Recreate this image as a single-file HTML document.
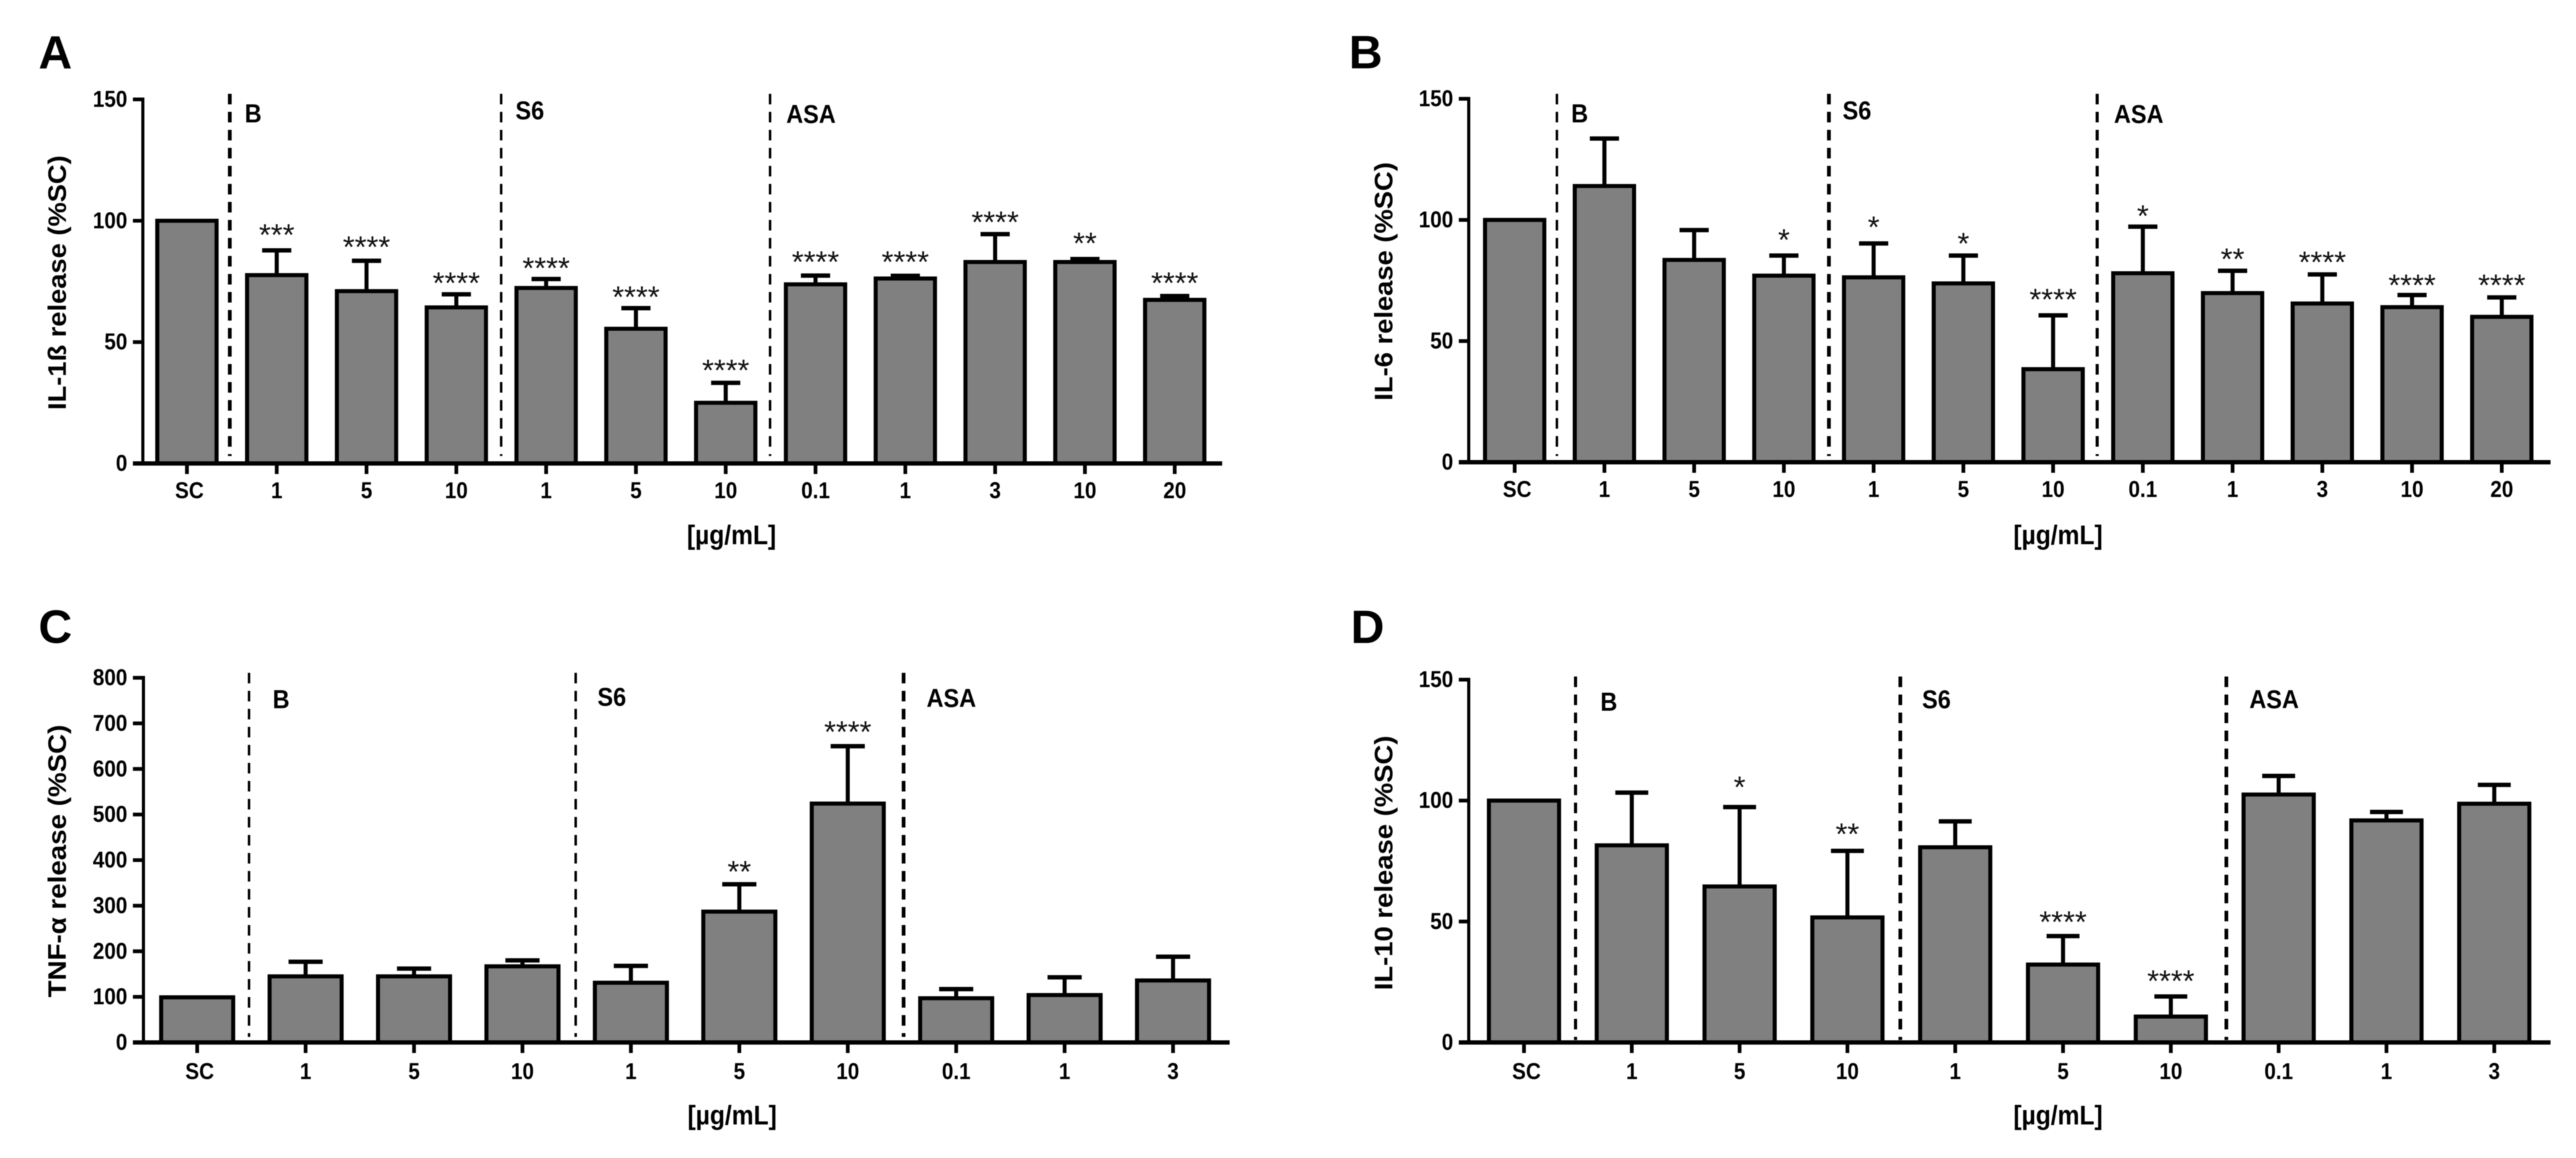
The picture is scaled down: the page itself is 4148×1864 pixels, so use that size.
<!DOCTYPE html>
<html lang="en">
<head>
<meta charset="utf-8">
<title>Cytokine release panels</title>
<style>
html,body{margin:0;padding:0;background:#fff;}
svg{display:block;font-family:"Liberation Sans",Arial,sans-serif;filter:blur(0.7px);}
.letter{font-size:75px;font-weight:bold;fill:#000;}
.ytitle{font-size:41px;font-weight:bold;fill:#000;text-anchor:middle;}
.xtitle{font-size:44px;font-weight:bold;fill:#000;text-anchor:middle;}
.group{font-size:42px;font-weight:bold;fill:#000;}
.divider{stroke:#000;stroke-dasharray:17 12;fill:none;}
</style>
</head>
<body>
<svg id="figure" xmlns="http://www.w3.org/2000/svg" width="4148" height="1864" viewBox="0 0 4148 1864">
  <rect x="0" y="0" width="4148" height="1864" fill="#ffffff"/>

  <g id="panel-a">
    <text class="letter" x="62" y="110">A</text>
    <text class="ytitle" transform="translate(106,455) rotate(-90)" textLength="410" lengthAdjust="spacingAndGlyphs">IL-1ß release (%SC)</text>
    <text class="xtitle" transform="translate(1178,876) scale(.9,1)">[µg/mL]</text>
    <line class="divider" x1="370" y1="151" x2="370" y2="734" stroke-width="6"/>
    <line class="divider" x1="807" y1="151" x2="807" y2="734" stroke-width="4"/>
    <line class="divider" x1="1240" y1="151" x2="1240" y2="734" stroke-width="4"/>
    <text class="group" transform="translate(394,197) scale(.9,1)">B</text>
    <text class="group" transform="translate(830,192) scale(.9,1)">S6</text>
    <text class="group" transform="translate(1266,198) scale(.9,1)">ASA</text>
  </g>

  <g id="panel-b">
    <text class="letter" x="2172" y="110">B</text>
    <text class="ytitle" transform="translate(2242,453) rotate(-90)" textLength="384" lengthAdjust="spacingAndGlyphs">IL-6 release (%SC)</text>
    <text class="xtitle" transform="translate(3314,876) scale(.9,1)">[µg/mL]</text>
    <line class="divider" x1="2507" y1="151" x2="2507" y2="734" stroke-width="4"/>
    <line class="divider" x1="2945" y1="151" x2="2945" y2="734" stroke-width="6"/>
    <line class="divider" x1="3377" y1="151" x2="3377" y2="734" stroke-width="5"/>
    <text class="group" transform="translate(2530,197) scale(.9,1)">B</text>
    <text class="group" transform="translate(2967,192) scale(.9,1)">S6</text>
    <text class="group" transform="translate(3404,198) scale(.9,1)">ASA</text>
  </g>

  <g id="panel-c">
    <text class="letter" x="62" y="1035">C</text>
    <text class="ytitle" transform="translate(106,1386) rotate(-90)" textLength="439" lengthAdjust="spacingAndGlyphs">TNF-α release (%SC)</text>
    <text class="xtitle" transform="translate(1179,1810) scale(.9,1)">[µg/mL]</text>
    <line class="divider" x1="401" y1="1083" x2="401" y2="1669" stroke-width="4"/>
    <line class="divider" x1="927" y1="1083" x2="927" y2="1669" stroke-width="4"/>
    <line class="divider" x1="1455" y1="1083" x2="1455" y2="1669" stroke-width="6"/>
    <text class="group" transform="translate(439,1140) scale(.9,1)">B</text>
    <text class="group" transform="translate(962,1136) scale(.9,1)">S6</text>
    <text class="group" transform="translate(1492,1138) scale(.9,1)">ASA</text>
  </g>

  <g id="panel-d">
    <text class="letter" x="2175" y="1035">D</text>
    <text class="ytitle" transform="translate(2242,1389) rotate(-90)" textLength="410" lengthAdjust="spacingAndGlyphs">IL-10 release (%SC)</text>
    <text class="xtitle" transform="translate(3314,1810) scale(.9,1)">[µg/mL]</text>
    <line class="divider" x1="2537" y1="1089" x2="2537" y2="1674" stroke-width="5"/>
    <line class="divider" x1="3060" y1="1089" x2="3060" y2="1674" stroke-width="6"/>
    <line class="divider" x1="3585" y1="1089" x2="3585" y2="1674" stroke-width="6"/>
    <text class="group" transform="translate(2577,1144) scale(.9,1)">B</text>
    <text class="group" transform="translate(3095,1140) scale(.9,1)">S6</text>
    <text class="group" transform="translate(3622,1140) scale(.9,1)">ASA</text>
  </g>
</svg>

<script>
// ---- Chart data ----
const categoriesA = ["SC","1","5","10","1","5","10","0.1","1","3","10","20"];
const valuesA     = [100,77.6,71,64.3,72.3,55.5,25,73.8,76.2,83,83,67.4];
const errorsA     = [0,10.2,12.5,5.4,3.7,8.5,8.2,3.6,1.1,11.5,1.2,1.6];
const starsA      = ["","***","****","****","****","****","****","****","****","****","**","****"];
const starLevelsA = [0,96,91,76.2,82.3,70.4,40.2,84.9,84.9,101.2,92.5,76.2];
const ticksA      = [0,50,100,150];

const categoriesB = ["SC","1","5","10","1","5","10","0.1","1","3","10","20"];
const valuesB     = [100,114,83.5,77,76.3,73.8,38.4,78,69.8,65.5,64,60];
const errorsB     = [0,19.6,12.3,8.3,14,11.5,22.2,19.2,9.2,12,5,8];
const starsB      = ["","","","*","*","*","****","*","**","****","****","****"];
const starLevelsB = [0,0,0,93.6,98.9,92,69,103.5,85.6,84.4,74.9,74.9];
const ticksB      = [0,50,100,150];

const categoriesC = ["SC","1","5","10","1","5","10","0.1","1","3"];
const valuesC     = [99,145,145,167,131,287,524,97,104,136];
const errorsC     = [0,32,17,13,37,60,126,20,39,52];
const starsC      = ["","","","","","**","****","","",""];
const starLevelsC = [0,0,0,0,0,384,691,0,0,0];
const ticksC      = [0,100,200,300,400,500,600,700,800];

const categoriesD = ["SC","1","5","10","1","5","10","0.1","1","3"];
const valuesD     = [100,81.5,64.5,51.7,80.7,32.2,10.7,102.5,91.8,98.7];
const errorsD     = [0,21.8,32.8,27.5,10.7,11.8,8.3,7.7,3.5,7.8];
const starsD      = ["","","*","**","","****","****","","",""];
const starLevelsD = [0,0,107.4,88,0,51.6,27.2,0,0,0];
const ticksD      = [0,50,100,150];

// ---- Layout (separate from the data) ----
const layoutA = {id:"panel-a",key:"a",axisX:230,y0:746,yTop:160,yMax:150,first:301,step:144.6,barW:95.5,capW:47,left:214,right:1968,labelY:802};
const layoutB = {id:"panel-b",key:"b",axisX:2365,y0:744,yTop:159,yMax:150,first:2439,step:144.5,barW:95.5,capW:47,left:2349,right:4107,labelY:800};
const layoutC = {id:"panel-c",key:"c",axisX:231,y0:1678,yTop:1091,yMax:800,first:317.5,step:174.6,barW:116,capW:55,left:214,right:1980,labelY:1737};
const layoutD = {id:"panel-d",key:"d",axisX:2365,y0:1678,yTop:1094,yMax:150,first:2454,step:173.6,barW:113,capW:53,left:2349,right:4107,labelY:1737};

const SVG_NS = "http://www.w3.org/2000/svg";

function make(tag, parent, props) {
  const node = document.createElementNS(SVG_NS, tag);
  for (const k in props) node.setAttribute(k, props[k]);
  parent.appendChild(node);
  return node;
}

function drawPanel(layout, categories, values, errors, stars, starLevels, ticks) {
  const group = document.getElementById(layout.id);
  const yScale = function (v) { return layout.y0 - (v / layout.yMax) * (layout.y0 - layout.yTop); };
  const xScale = function (i) { return layout.first + i * layout.step; };

  // bars and error bars
  categories.forEach(function (cat, i) {
    const cx = xScale(i);
    const top = yScale(values[i]);
    if (errors[i] > 0) {
      const errTop = yScale(values[i] + errors[i]);
      const stem = make("line", group, {x1:cx, x2:cx, y1:errTop, y2:top, stroke:"#000", "stroke-width":6.5});
      
      
      const cap = make("line", group, {x1:cx-layout.capW/2, x2:cx+layout.capW/2, y1:errTop, y2:errTop, stroke:"#000", "stroke-width":7});
      
      
    }
    const bar = make("rect", group, {x:cx-layout.barW/2, y:top, width:layout.barW, height:layout.y0-top, fill:"#808080", stroke:"#000", "stroke-width":6.5});
    
    

    const tick = make("line", group, {x1:cx, x2:cx, y1:layout.y0, y2:layout.y0+17, stroke:"#000", "stroke-width":6});
    
    

    const labelX = cat === "SC" ? cx + 4 : cx;
    const label = make("text", group, {transform:"translate("+labelX+","+layout.labelY+") scale(.9,1)", "text-anchor":"middle", "font-size":37, "font-weight":"bold", fill:"#000"});
    label.textContent = cat;
    
    

    if (stars[i]) {
      const star = make("text", group, {x:cx, y:yScale(starLevels[i])+24, "text-anchor":"middle", "font-size":49, fill:"#111"});
      star.textContent = stars[i];
      
      
    }
  });

  // axes
  const yAxis = make("line", group, {x1:layout.axisX, x2:layout.axisX, y1:layout.yTop-3, y2:layout.y0, stroke:"#000", "stroke-width":5});
  
  
  const xAxis = make("line", group, {x1:layout.left, x2:layout.right, y1:layout.y0, y2:layout.y0, stroke:"#000", "stroke-width":7});
  
  

  ticks.forEach(function (t) {
    const y = yScale(t);
    const tick = make("line", group, {x1:layout.left, x2:layout.axisX, y1:y, y2:y, stroke:"#000", "stroke-width":6});
    
    
    const label = make("text", group, {transform:"translate("+(layout.left-9)+","+(y+12)+") scale(.9,1)", "text-anchor":"end", "font-size":37, "font-weight":"bold", fill:"#000"});
    label.textContent = String(t);
    
    
  });
}

drawPanel(layoutA, categoriesA, valuesA, errorsA, starsA, starLevelsA, ticksA);
drawPanel(layoutB, categoriesB, valuesB, errorsB, starsB, starLevelsB, ticksB);
drawPanel(layoutC, categoriesC, valuesC, errorsC, starsC, starLevelsC, ticksC);
drawPanel(layoutD, categoriesD, valuesD, errorsD, starsD, starLevelsD, ticksD);
</script>
</body>
</html>
